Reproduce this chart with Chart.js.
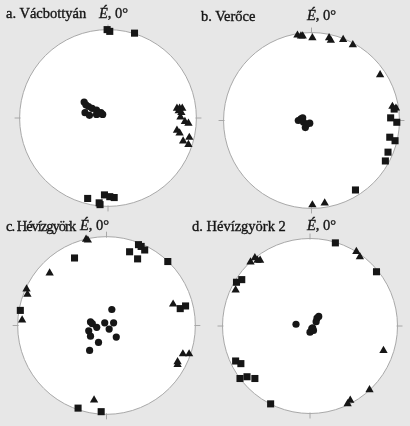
<!DOCTYPE html>
<html>
<head>
<meta charset="utf-8">
<script src="https://cdn.jsdelivr.net/npm/chart.js@4.4.1/dist/chart.umd.min.js"></script>
<style>
  body { margin: 0; width: 410px; height: 426px; overflow: hidden; position: relative;
         background: #e7e7e7; font-family: "Liberation Serif", "Times New Roman", serif; }
  canvas { position: absolute; }
  .lbl { position: absolute; font-size: 14.5px; line-height: 15px; color: #151515; white-space: nowrap;
         -webkit-text-stroke: 0.35px #151515; }
  .lbl i { font-style: italic; }
</style>
</head>
<body>
<script>
// pontok a sztereogramon: [x (K+), y (É+)] egységkörben
const titles = ["a. Vácbottyán", "b. Verőce", "c. Hévízgyörk", "d. Hévízgyörk 2"];
const northLabel = "É, 0°";

const aCircles = [[-0.27,0.18],[-0.25,0.15],[-0.22,0.13],[-0.18,0.11],[-0.13,0.09],[-0.08,0.06],
  [-0.06,0.04],[-0.26,0.06],[-0.21,0.03],[-0.13,0.04],[-0.10,0.05]];
const aSquares = [[-0.01,1.0],[0.02,0.98],[0.30,0.96],[-0.23,-0.91],[-0.10,-0.96],[-0.09,-0.98],
  [-0.04,-0.87],[0.02,-0.89],[0.07,-0.90]];
const aTriangles = [[0.78,0.11],[0.81,0.11],[0.84,0.11],[0.80,0.08],[0.83,0.06],[0.82,0.01],
  [0.87,-0.04],[0.91,-0.06],[0.78,-0.14],[0.81,-0.17],[0.92,-0.22],[0.85,-0.26],[0.91,-0.30]];

const bCircles = [[-0.12,0.02],[-0.10,0.03],[-0.09,-0.02],[-0.05,-0.04],[-0.07,-0.08],[-0.02,-0.03],[-0.15,0.0]];
const bSquares = [[0.94,0.13],[0.90,0.03],[0.97,-0.02],[0.89,-0.19],[0.95,-0.23],[0.87,-0.36],
  [0.84,-0.46],[0.50,-0.79]];
const bTriangles = [[-0.16,0.97],[-0.12,0.96],[-0.10,0.96],[0.01,0.94],[0.20,0.94],[0.22,0.91],
  [0.36,0.92],[0.47,0.86],[0.78,0.52],[0.01,-0.96],[0.15,-0.94],[0.92,0.16],[0.96,0.14]];

const cCircles = [[0.06,0.18],[-0.18,0.04],[-0.16,0.02],[-0.11,-0.02],[-0.02,0.03],[0.08,0.03],
  [-0.20,-0.06],[0.03,-0.04],[-0.18,-0.12],[0.11,-0.13],[-0.09,-0.19],[-0.19,-0.28]];
const cSquares = [[-0.36,0.76],[0.26,0.83],[0.36,0.91],[0.39,0.89],[0.43,0.85],[0.35,0.75],
  [0.69,0.72],[0.83,0.19],[0.89,0.22],[-0.97,0.17],[-0.32,-0.93],[-0.06,-0.97]];
const cTriangles = [[-0.23,0.97],[-0.21,0.96],[-0.64,0.59],[-0.90,0.41],[-0.89,0.35],[-0.95,0.06],
  [0.75,0.24],[0.80,-0.41],[0.80,-0.44],[0.86,-0.32],[0.93,-0.32],[-0.14,-0.84]];

const dCircles = [[-0.16,0.02],[0.08,0.09],[0.10,0.11],[0.07,0.05],[0.02,-0.03],[0.0,-0.07],
  [0.04,-0.05],[0.03,-0.02]];
const dSquares = [[0.29,0.95],[0.76,0.62],[-0.78,0.53],[-0.84,0.50],[-0.85,-0.40],[-0.79,-0.43],
  [-0.80,-0.60],[-0.72,-0.58],[-0.63,-0.60],[-0.45,-0.89]];
const dTriangles = [[0.53,0.85],[0.57,0.79],[-0.68,0.73],[-0.63,0.78],[-0.60,0.75],[-0.57,0.75],
  [-0.85,0.41],[0.84,-0.28],[0.68,-0.73],[0.46,-0.85],[0.43,-0.89]];

// elrendezés: kör középpontja, sugara, feliratok helye
const panels = [
  { cx: 107.5, cy: 118, r: 93, title: [6, 6], north: [99, 6], spacing: 0, sets: [aCircles, aSquares, aTriangles] },
  { cx: 311.5, cy: 120, r: 92.5, title: [201, 9], north: [307, 8], spacing: 0, sets: [bCircles, bSquares, bTriangles] },
  { cx: 106.5, cy: 325.5, r: 93.5, title: [6, 219], north: [80, 218], spacing: -1, sets: [cCircles, cSquares, cTriangles] },
  { cx: 310, cy: 326, r: 92, title: [192, 219], north: [307, 218], spacing: 0, sets: [dCircles, dSquares, dTriangles] }
];

const SPAN = 1.12;
const ink = "#161616";

const stereonet = {
  id: "stereonet",
  beforeDatasetsDraw(chart) {
    const { ctx, scales: { x, y } } = chart;
    const cx = x.getPixelForValue(0), cy = y.getPixelForValue(0);
    const r = x.getPixelForValue(1) - cx;
    ctx.save();
    ctx.beginPath();
    ctx.arc(cx, cy, r, 0, Math.PI * 2);
    ctx.fillStyle = "#ffffff";
    ctx.fill();
    ctx.strokeStyle = "#a8a8a8";
    ctx.lineWidth = 1;
    ctx.stroke();
    ctx.beginPath();
    [[0, -1], [1, 0], [0, 1], [-1, 0]].forEach(([dx, dy]) => {
      ctx.moveTo(cx + dx * (r - 1), cy + dy * (r - 1));
      ctx.lineTo(cx + dx * (r + 5), cy + dy * (r + 5));
    });
    ctx.stroke();
    ctx.restore();
  }
};

function pts(arr) {
  return arr.map(([x, y]) => ({ x, y }));
}

panels.forEach((p, i) => {
  const size = Math.round(2 * p.r * SPAN);
  const cv = document.createElement("canvas");
  cv.width = size;
  cv.height = size;
  cv.style.left = (p.cx - size / 2) + "px";
  cv.style.top = (p.cy - size / 2) + "px";
  document.body.appendChild(cv);

  const t = document.createElement("div");
  t.className = "lbl";
  t.textContent = titles[i];
  t.style.left = p.title[0] + "px";
  t.style.top = p.title[1] + "px";
  t.style.letterSpacing = p.spacing + "px";
  document.body.appendChild(t);

  const n = document.createElement("div");
  n.className = "lbl";
  n.innerHTML = "<i>" + northLabel[0] + "</i>" + northLabel.slice(1);
  n.style.left = p.north[0] + "px";
  n.style.top = p.north[1] + "px";
  document.body.appendChild(n);

  const [circles, squares, triangles] = p.sets;
  new Chart(cv, {
    type: "scatter",
    data: {
      datasets: [
        { data: pts(circles), pointStyle: "circle", pointRadius: 3.6 },
        { data: pts(squares), pointStyle: "rect", pointRadius: 5 },
        { data: pts(triangles), pointStyle: "triangle", pointRadius: 4.8 }
      ].map(ds => ({ ...ds, backgroundColor: ink, borderColor: ink, borderWidth: 0, clip: false }))
    },
    options: {
      responsive: false,
      animation: false,
      events: [],
      layout: { padding: 0 },
      scales: {
        x: { type: "linear", min: -SPAN, max: SPAN, display: false },
        y: { type: "linear", min: -SPAN, max: SPAN, display: false }
      },
      plugins: { legend: { display: false }, tooltip: { enabled: false } }
    },
    plugins: [stereonet]
  });
});
</script>
</body>
</html>
